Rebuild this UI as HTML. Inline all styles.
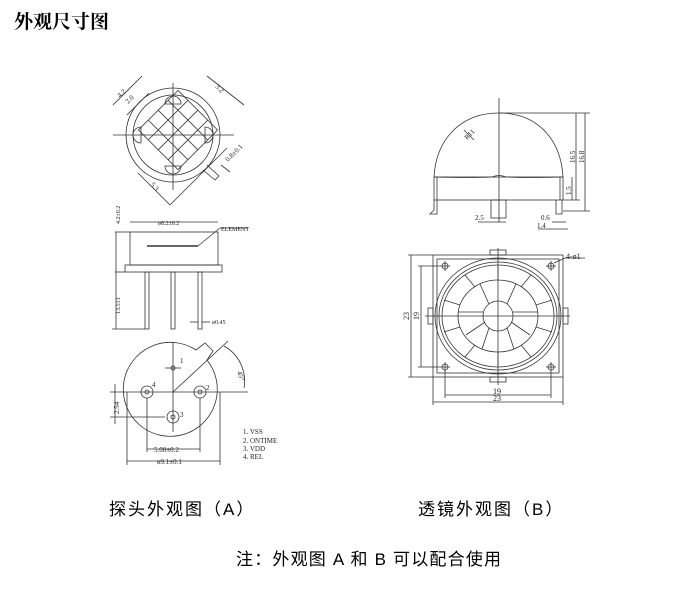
<!DOCTYPE html>
<html><head><meta charset="utf-8"><style>
html,body{margin:0;padding:0;background:#fff;width:676px;height:597px;overflow:hidden}
.t{position:absolute;font-family:"Liberation Sans","Noto Sans CJK SC",sans-serif;color:#000;white-space:nowrap}
svg{position:absolute;left:0;top:0}
svg text{font-family:"Liberation Serif",serif;fill:#222}
</style></head><body>
<div class="t" style="left:14px;top:7px;font-size:19px;font-weight:bold;font-family:'Noto Serif CJK SC','Noto Sans CJK SC',serif">外观尺寸图</div>
<div class="t" style="left:109px;top:495px;font-size:17px;letter-spacing:2px">探头外观图（A）</div>
<div class="t" style="left:418px;top:495px;font-size:17px;letter-spacing:2px">透镜外观图（B）</div>
<div class="t" style="left:236px;top:545px;font-size:17px;letter-spacing:1.2px">注：外观图 A 和 B 可以配合使用</div>
<svg width="676" height="597" viewBox="0 0 676 597" fill="none" stroke="#333" stroke-width="0.8">
<!-- top view A -->
<circle cx="173" cy="135" r="47"/>
<circle cx="173" cy="135" r="40"/>
<path d="M203 170 L215 180 L219 176 L207 165"/>
<line x1="113" y1="135" x2="234" y2="135"/>
<line x1="173" y1="83" x2="173" y2="190"/>
<g transform="rotate(45 178 130)">
<rect x="150" y="102" width="56" height="56"/>
<line x1="164" y1="102" x2="164" y2="158"/><line x1="178" y1="102" x2="178" y2="158"/><line x1="192" y1="102" x2="192" y2="158"/>
<line x1="150" y1="116" x2="206" y2="116"/><line x1="150" y1="130" x2="206" y2="130"/><line x1="150" y1="144" x2="206" y2="144"/>
</g>
<path d="M165 104 A8 8 0 0 1 181 104 Z"/><path d="M165 166 A8 8 0 0 0 181 166 Z"/>
<path d="M141 127 A8 8 0 0 0 141 143 Z"/><path d="M205 127 A8 8 0 0 1 205 143 Z"/>
<line x1="113" y1="105" x2="142" y2="76"/><line x1="127" y1="115" x2="149" y2="93"/>
<line x1="207" y1="76" x2="244" y2="105"/><line x1="138" y1="173" x2="170" y2="205"/>
<line x1="170" y1="205" x2="227" y2="148"/>
<line x1="221" y1="165" x2="230" y2="172"/>
<g font-size="7" stroke="none" fill="#222">
<text x="120" y="98" transform="rotate(-45 120 98)">4.2</text>
<text x="128" y="104" transform="rotate(-45 128 104)">2.0</text>
<text x="215" y="87" transform="rotate(45 215 87)">3.2</text>
<text x="228" y="162" transform="rotate(-45 228 162)">0.8±0.1</text>
<text x="150" y="185" transform="rotate(45 150 185)">5.3</text>
</g>
<!-- side view A -->
<rect x="130" y="232" width="88" height="33"/>
<rect x="125" y="265" width="97" height="7"/>
<line x1="147" y1="246" x2="198" y2="246" stroke-width="1.6"/>
<line x1="198" y1="246" x2="220" y2="228"/><line x1="220" y1="228" x2="248" y2="228"/>
<line x1="130" y1="222" x2="218" y2="222"/>
<line x1="115" y1="232" x2="130" y2="232"/><line x1="115" y1="272" x2="125" y2="272"/>
<line x1="116" y1="232" x2="116" y2="272"/><line x1="116" y1="272" x2="116" y2="329"/>
<line x1="112" y1="329" x2="145" y2="329"/>
<rect x="145" y="272" width="4" height="57"/><rect x="171" y="272" width="4" height="57"/><rect x="198" y="272" width="4" height="57"/>
<line x1="190" y1="322" x2="198" y2="322"/><line x1="202" y1="322" x2="210" y2="322"/>
<g font-size="6" stroke="none" fill="#222">
<text x="158" y="225">ø8.2±0.2</text>
<text x="221" y="231">ELEMENT</text>
<text x="212" y="324">ø0.45</text>
<text x="0" y="0" transform="translate(120 224) rotate(-90)">4.2±0.2</text>
<text x="0" y="0" transform="translate(120 314) rotate(-90)">13.5±1</text>
</g>
<!-- bottom view A -->
<path d="M207 360 A47 47 0 1 1 196 350 L205 343 L213 351 Z"/>
<line x1="173" y1="342" x2="173" y2="432"/>
<line x1="110" y1="392" x2="248" y2="392"/>
<line x1="173" y1="392" x2="228" y2="341"/>
<circle cx="173" cy="368" r="2"/><line x1="165" y1="368" x2="181" y2="368"/>
<circle cx="147" cy="392" r="6"/><circle cx="147" cy="392" r="2"/>
<circle cx="200" cy="392" r="6"/><circle cx="200" cy="392" r="2"/>
<circle cx="173" cy="417" r="6"/><circle cx="173" cy="417" r="2"/>
<line x1="147" y1="398" x2="147" y2="452"/><line x1="200" y1="398" x2="200" y2="452"/>
<line x1="127" y1="392" x2="127" y2="465"/><line x1="220" y1="392" x2="220" y2="465"/>
<line x1="147" y1="449" x2="200" y2="449"/><line x1="127" y1="461" x2="220" y2="461"/>
<line x1="115" y1="384" x2="115" y2="424"/>
<line x1="110" y1="417" x2="165" y2="417"/>
<path d="M224 346 A40 40 0 0 1 244 388"/>
<g font-size="7" stroke="none" fill="#222">
<text x="180" y="363">1</text><text x="152" y="387">4</text><text x="206" y="390">2</text><text x="180" y="417">3</text>
<text x="154" y="452">5.08±0.2</text><text x="157" y="464">ø9.1±0.1</text>
<text x="0" y="0" transform="translate(119 414) rotate(-90)">2.54</text>
<text x="237" y="372" transform="rotate(70 237 372)">45°</text>
<text x="243" y="434">1. VSS</text><text x="243" y="443">2. ONTIME</text><text x="243" y="451">3. VDD</text><text x="243" y="459">4. REL</text>
</g>
<!-- side view B -->
<path d="M434 177 C436 140 460 113 499 113 C538 113 561 140 563 177"/>
<rect x="434" y="177" width="129" height="23"/>
<line x1="437" y1="177" x2="437" y2="200"/><line x1="560" y1="177" x2="560" y2="200"/>
<path d="M434 177 Q470 178 492 177 Q499 174 506 177 Q530 178 563 177"/>
<rect x="491" y="200" width="15" height="18"/>
<path d="M434 200 L434 210 L430 214 L437 214 L437 200"/>
<path d="M556 200 L556 214 L562 214 L562 200"/>
<line x1="499" y1="98" x2="499" y2="222"/>
<line x1="499" y1="113" x2="590" y2="113"/>
<line x1="576" y1="113" x2="576" y2="200"/><line x1="585" y1="113" x2="585" y2="211"/>
<line x1="563" y1="200" x2="580" y2="200"/><line x1="563" y1="211" x2="590" y2="211"/>
<line x1="572" y1="177" x2="572" y2="200"/>
<line x1="478" y1="222" x2="506" y2="222"/>
<line x1="552" y1="222" x2="566" y2="222"/><line x1="538" y1="229" x2="568" y2="229"/>
<line x1="464" y1="130" x2="474" y2="140"/>
<g font-size="7" stroke="none" fill="#222">
<text x="467" y="140" transform="rotate(-45 467 140)">R11</text>
<text x="0" y="0" transform="translate(575 163) rotate(-90)">16.5</text>
<text x="0" y="0" transform="translate(584 163) rotate(-90)">16.8</text>
<text x="0" y="0" transform="translate(571 195) rotate(-90)">1.5</text>
<text x="475" y="220">2.5</text><text x="541" y="220">0.6</text><text x="537" y="228">1.4</text>
</g>
<!-- bottom view B -->
<rect x="433" y="255" width="130" height="122"/>
<rect x="437" y="259" width="122" height="114"/>
<rect x="490" y="250" width="16" height="5"/><rect x="490" y="377" width="16" height="5"/>
<rect x="428" y="308" width="5" height="16"/><rect x="563" y="308" width="5" height="16"/>
<ellipse cx="498" cy="316" rx="63" ry="58"/>
<ellipse cx="498" cy="316" rx="59" ry="54"/>
<ellipse cx="498" cy="316" rx="56" ry="51"/>
<ellipse cx="498" cy="316" rx="40" ry="36"/>
<circle cx="498" cy="316" r="15"/>
<g>
<line x1="498" y1="280" x2="498" y2="265"/>
<line x1="521" y1="287" x2="531" y2="275"/><line x1="536" y1="305" x2="552" y2="300"/><line x1="536" y1="327" x2="552" y2="332"/><line x1="521" y1="345" x2="531" y2="357"/>
<line x1="475" y1="287" x2="465" y2="275"/><line x1="460" y1="305" x2="444" y2="300"/><line x1="460" y1="327" x2="444" y2="332"/><line x1="475" y1="345" x2="465" y2="357"/>
<line x1="498" y1="352" x2="498" y2="367"/>
<line x1="507" y1="304" x2="516" y2="284"/><line x1="489" y1="304" x2="480" y2="284"/>
<line x1="511" y1="322" x2="530" y2="335"/><line x1="485" y1="322" x2="466" y2="335"/>
<line x1="507" y1="328" x2="514" y2="349"/><line x1="489" y1="328" x2="482" y2="349"/>
<line x1="513" y1="312" x2="538" y2="312"/><line x1="483" y1="312" x2="458" y2="312"/>
</g>
<line x1="498" y1="248" x2="498" y2="385"/><line x1="425" y1="316" x2="570" y2="316"/>
<circle cx="445" cy="266" r="3"/><circle cx="551" cy="266" r="3"/><circle cx="445" cy="367" r="3"/><circle cx="551" cy="367" r="3"/>
<line x1="440" y1="266" x2="450" y2="266"/><line x1="445" y1="261" x2="445" y2="271"/>
<line x1="546" y1="266" x2="556" y2="266"/><line x1="551" y1="261" x2="551" y2="271"/>
<line x1="440" y1="367" x2="450" y2="367"/><line x1="445" y1="362" x2="445" y2="372"/>
<line x1="546" y1="367" x2="556" y2="367"/><line x1="551" y1="362" x2="551" y2="372"/>
<line x1="554" y1="263" x2="565" y2="258"/><line x1="565" y1="258" x2="585" y2="258"/>
<line x1="411" y1="255" x2="411" y2="377"/><line x1="408" y1="255" x2="433" y2="255"/><line x1="408" y1="377" x2="433" y2="377"/>
<line x1="421" y1="266" x2="421" y2="367"/><line x1="418" y1="266" x2="440" y2="266"/><line x1="418" y1="367" x2="440" y2="367"/>
<line x1="445" y1="372" x2="445" y2="398"/><line x1="551" y1="372" x2="551" y2="398"/>
<line x1="433" y1="377" x2="433" y2="405"/><line x1="563" y1="377" x2="563" y2="405"/>
<line x1="445" y1="395" x2="551" y2="395"/><line x1="433" y1="402" x2="563" y2="402"/>
<g font-size="8" stroke="none" fill="#222">
<text x="566" y="259">4-ø1</text>
<text x="0" y="0" transform="translate(409 320) rotate(-90)">23</text>
<text x="0" y="0" transform="translate(419 320) rotate(-90)">19</text>
<text x="493" y="394">19</text><text x="493" y="401">23</text>
</g>
</svg>
</body></html>
